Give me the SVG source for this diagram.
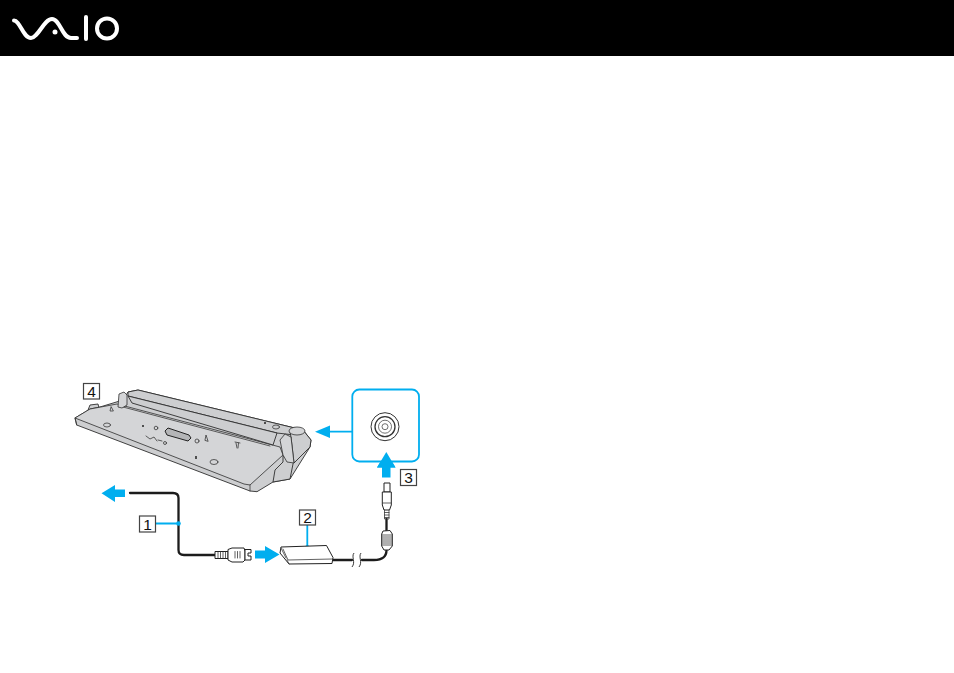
<svg xmlns="http://www.w3.org/2000/svg" width="954" height="673" viewBox="0 0 954 673">
<style>
.d{fill:#cdced0;stroke:#2e2e2e;stroke-width:.9;stroke-linejoin:round}
.l{fill:#d4d5d7;stroke:#2e2e2e;stroke-width:.8;stroke-linejoin:round}
.t{fill:none;stroke:#3a3a3a;stroke-width:.8;stroke-linecap:round}
.c{fill:none;stroke:#1c1c1c;stroke-width:2.300;stroke-linecap:round;stroke-linejoin:round}
.b{fill:#00aeef}
.bl{fill:none;stroke:#00aeef;stroke-width:1.800}
.box{fill:#fff;stroke:#444;stroke-width:1.200}
.n{font:15.500px "Liberation Sans",Arial,sans-serif;fill:#111;text-anchor:middle}
.p{fill:#fff;stroke:#222;stroke-width:1;stroke-linejoin:round}
.w{fill:none;stroke:#fff;stroke-linecap:round;stroke-linejoin:round}
</style>
<rect width="954" height="56" fill="#000"/>
<g id="logo">
<path class="w" stroke-width="4" d="M14 20.500C20 20.500 23 38 31 38C38 38 44 19 52 19C60 19 62 38 71 38H77"/>
<circle cx="55" cy="32" r="2.500" fill="#fff"/>
<path class="w" stroke-width="4" stroke-linecap="butt" d="M86 17V39"/>
<circle cx="107" cy="28.500" r="10" fill="none" stroke="#fff" stroke-width="4"/>
</g>
<g id="dock">
<path class="d" d="M88 410L90 405L98 404L99 408Z"/>
<path class="d" d="M75 418L76.700 425L250 491L257 491.700L273 482L290 479L310 447L311 440L303 430L138 390L128 392L123 400L100 407L90 409Z"/>
<path class="l" d="M75 418L90 409L117 404L280 447L283 455L250 485L244 484Z"/>
<path class="d" d="M128 392L138 390L303 430L303 436L277 433L128 396Z"/>
<path class="d" d="M128 396L277 433L273 445L132 403Z"/>
<path class="t" d="M123 407L270 446M76.700 425L75 418M250 485L250 491"/>
<path class="l" d="M118 407L119 394L124 392L127 395L127 405L122 408Z"/>
<path class="d" d="M283 456L294 459L290 479L273 482L275 470L283 462Z"/>
<path class="d" d="M290 432L303 430L311 440L310 447L294 463L291 437Z"/>
<ellipse cx="297" cy="431" rx="8" ry="4" class="l"/>
<path class="l" d="M280 440L285 434L291 437L294 463L287 462L283 455Z"/>
<path class="t" d="M111 407L110 411H113Z"/>
<ellipse cx="107" cy="425" rx="3.500" ry="2" class="t"/>
<ellipse cx="214" cy="462" rx="4" ry="2.500" class="t"/>
<ellipse cx="276" cy="427" rx="3.500" ry="2" class="t"/>
<circle cx="143" cy="426" r="1" fill="#222"/>
<circle cx="265" cy="423" r="1" fill="#222"/>
<path fill="#b4b5b7" stroke="#222" stroke-width="1" d="M165 431L168 428L189 435L191 438L188 441L167 435Z"/>
<circle cx="156" cy="428" r="1.800" class="t"/>
<circle cx="197" cy="441" r="2" class="t"/>
<circle cx="165" cy="443" r="1.500" class="t"/>
<path class="t" d="M205 440L206 435L208 441ZM236 443L237 448M238.500 443L238 448M235 442L240 443"/>
<path class="t" stroke-width="1" d="M146 436L150 439L154 437L157 441M158 440L162 441"/>
<path stroke="#222" stroke-width="1.500" d="M196 456V459"/>
</g>
<g id="connectors">
<path class="c" d="M130 493H173Q178.500 493 178.500 498V550Q178.500 555 184 555H215"/>
<path class="c" d="M333 560H352M362 560H374Q386.500 560 386.500 550"/>
<path fill="none" stroke="#222" stroke-width=".9" d="M354 553C351 557 356 562 352 567M361 553C358 557 363 562 359 567"/>
<path class="c" d="M386.500 519V531"/>
<path class="bl" d="M155.700 523.500H178M307.300 525V548M352.300 431.700H325"/>
<circle class="b" cx="178.500" cy="523.500" r="2.300"/>
<circle class="b" cx="307.300" cy="547.500" r="2.300"/>
<path class="b" d="M315 431.700L330 425.500V438Z"/>
<path class="b" d="M101.500 493.300L115 485V489.500H125V497H115V502Z"/>
<path class="b" d="M255 550.500H265V546L279.500 554.500L265 563V558.500H255Z"/>
<path class="b" d="M386.300 452L395.500 467.500H390.500V477.500H382V467.500H377Z"/>
</g>
<g id="inset">
<rect x="352.300" y="389.500" width="66.700" height="72" rx="7" fill="#fff" stroke="#00aeef" stroke-width="1.800"/>
<path class="b" d="M386.300 452L395.500 467.500H377Z"/>
<g fill="none" stroke="#333">
<circle cx="385" cy="426.700" r="14" stroke-width="1"/>
<circle cx="385" cy="426.700" r="10" stroke-width="1.300"/>
<circle cx="385" cy="426.700" r="6.500" stroke-width=".7"/>
<circle cx="385" cy="426.700" r="3" stroke-width=".7"/>
</g>
</g>
<g id="plug-dc">
<path class="p" d="M384 483H390V492H384Z"/>
<path class="p" d="M382.300 492H391.300V505L389.500 510H384L382.300 505Z"/>
<path class="t" d="M382.500 503H391M384.500 510V519H389V510"/>
<path class="t" d="M384.500 512.500H389M384.500 515H389M384.500 517.500H389"/>
<path class="p" d="M383 531L390 530.500L392.300 534V546L389 550H384L381.700 546V534Z"/>
<path class="t" d="M382 535H392M382 537H392M382 539H392M382 541H392M382 543H392M382 545H392"/>
</g>
<g id="adapter">
<path class="p" d="M281 547L326.500 545.500L333 557.500L332 563.500L289 564L280 553Z"/>
<path class="t" d="M283 549L288 560L332.500 559M287 560L289 564M281 548L286 558"/>
</g>
<g id="plug-ac">
<path class="p" d="M215 551.500H228V558.500H215Z"/>
<path class="t" d="M218 552V558M220.500 552V558M223 552V558M225.500 552V558"/>
<path class="p" d="M228 549.500L232 548H244L245 551V560L243 562H232L228 560Z"/>
<path class="t" d="M235 551.500V558M237.500 551.500V558M240 551.500V558"/>
<path class="p" d="M245 549.500H251V553H248V556H251V560H245Z"/>
</g>
<g id="label-1"><rect class="box" x="139.500" y="516" width="16" height="16"/><text class="n" x="147.500" y="529.500">1</text></g>
<g id="label-2"><rect class="box" x="299.500" y="510" width="16" height="15"/><text class="n" x="307.500" y="523">2</text></g>
<g id="label-3"><rect class="box" x="400.500" y="469.500" width="16" height="16"/><text class="n" x="408.500" y="483">3</text></g>
<g id="label-4"><rect class="box" x="83.500" y="383.500" width="16" height="15.500"/><text class="n" x="91.500" y="396.500">4</text></g>
</svg>
